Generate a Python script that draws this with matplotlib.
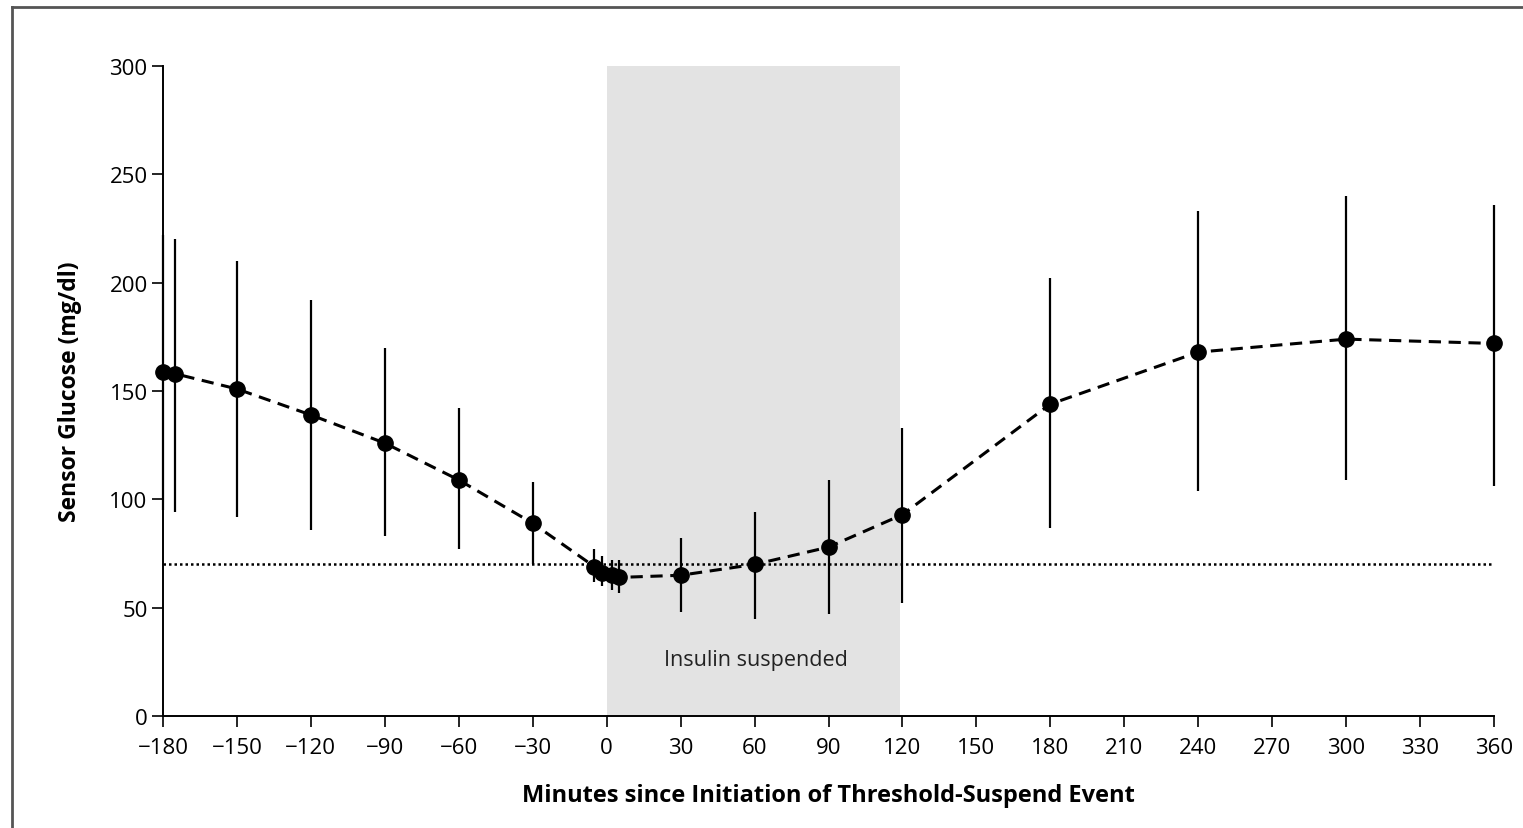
import matplotlib.pyplot as plt
from matplotlib.lines import Line2D

# minutes since threshold-suspend start, mean sensor glucose and bar ends (mg/dl)
minutes = [-180, -175, -150, -120, -90, -60, -30, -5, -2, 2, 5, 30, 60, 90, 120, 180, 240, 300, 360]
glucose = [159, 158, 151, 139, 126, 109, 89, 69, 66, 65, 64, 65, 70, 78, 93, 144, 168, 174, 172]
bar_high = [222, 220, 210, 192, 170, 142, 108, 77, 74, 72, 72, 82, 94, 109, 133, 202, 233, 240, 236]
bar_low = [95, 94, 92, 86, 83, 77, 70, 62, 60, 58, 57, 48, 45, 47, 52, 87, 104, 109, 106]

threshold = 70
suspend_start, suspend_end = 0, 119
x_ticks = list(range(-180, 361, 30))
y_ticks = [0, 50, 100, 150, 200, 250, 300]

plt.rcParams["font.family"] = ["Open Sans", "DejaVu Sans"]

fig = plt.figure(figsize=(15.23, 8.29), dpi=100)
ax = fig.add_axes([0.107, 0.135, 0.874, 0.784])

ax.axvspan(suspend_start, suspend_end, ymin=0, ymax=1, color="#e3e3e3", lw=0, zorder=0)
ax.text((suspend_start + suspend_end) / 2 + 1, 26, "Insulin suspended",
        ha="center", va="center", fontsize=15.5, color="#222222")

ax.axhline(threshold, color="black", linestyle=(0, (1, 1.2)), linewidth=1.8, zorder=1)

ax.vlines(minutes, bar_low, bar_high, color="black", linewidth=1.6, zorder=2, clip_on=False)
ax.plot(minutes, glucose, color="black", linestyle=(0, (4, 2.5)), linewidth=2.2,
        marker="o", markersize=11, zorder=3, clip_on=False)

ax.set_xlim(-180, 360)
ax.set_ylim(0, 300)
ax.set_xticks(x_ticks)
ax.set_yticks(y_ticks)
ax.tick_params(axis="both", labelsize=16, length=8, width=1.2, direction="out")
ax.tick_params(axis="x", pad=7)
ax.tick_params(axis="y", pad=3)
for side in ["top", "right"]:
    ax.spines[side].set_visible(False)
for side in ["left", "bottom"]:
    ax.spines[side].set_linewidth(1.4)

ax.set_xlabel("Minutes since Initiation of Threshold-Suspend Event", fontsize=17,
              fontweight="bold", labelpad=18)
ax.set_ylabel("Sensor Glucose (mg/dl)", fontsize=16.5, fontweight="bold", labelpad=20)

# frame around the panel (left and top edges only visible in the original)
fig.add_artist(Line2D([0.008, 0.008], [0.0, 0.990], color="#555555", lw=2, transform=fig.transFigure))
fig.add_artist(Line2D([0.008, 1.0], [0.990, 0.990], color="#555555", lw=2, transform=fig.transFigure))

fig.savefig("out.png", dpi=100)
